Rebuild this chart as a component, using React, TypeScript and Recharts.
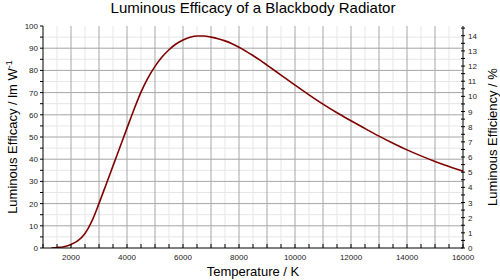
import React from 'react';
import { LineChart, Line, XAxis, YAxis, CartesianGrid } from 'recharts';

const temperatures = [1300, 1500, 1750, 2000, 2250, 2500, 2750, 3000, 3250, 3500, 3750, 4000, 4250, 4500, 4750, 5000, 5250, 5500, 5750, 6000, 6250, 6500, 6750, 7000, 7250, 7500, 7750, 8000, 8250, 8500, 8750, 9000, 9500, 10000, 10500, 11000, 11500, 12000, 12500, 13000, 13500, 14000, 14500, 15000, 15500, 16000];
const efficacy = [0.0, 0.2, 0.6, 1.6, 3.3, 6.5, 12.2, 20.1, 28.5, 37.0, 45.5, 54.0, 62.4, 70.2, 76.6, 81.8, 86.0, 89.3, 91.9, 93.7, 94.9, 95.5, 95.5, 95.0, 94.3, 93.3, 92.0, 90.4, 88.6, 86.7, 84.6, 82.4, 77.9, 73.4, 69.0, 64.8, 60.9, 57.3, 53.8, 50.4, 47.2, 44.2, 41.5, 39.0, 36.7, 34.6];

const xTicks = [1000, 1500, 2000, 2500, 3000, 3500, 4000, 4500, 5000, 5500, 6000, 6500, 7000, 7500, 8000, 8500, 9000, 9500, 10000, 10500, 11000, 11500, 12000, 12500, 13000, 13500, 14000, 14500, 15000, 15500, 16000];
const xMajorGrid = [2000, 3000, 4000, 5000, 6000, 7000, 8000, 9000, 10000, 11000, 12000, 13000, 14000, 15000];
const xMinorGrid = [1500, 2500, 3500, 4500, 5500, 6500, 7500, 8500, 9500, 10500, 11500, 12500, 13500, 14500, 15500];
const yTicks = [0, 5, 10, 15, 20, 25, 30, 35, 40, 45, 50, 55, 60, 65, 70, 75, 80, 85, 90, 95, 100];
const yMajorGrid = [10, 20, 30, 40, 50, 60, 70, 80, 90];
const yMinorGrid = [5, 15, 25, 35, 45, 55, 65, 75, 85, 95];
const rightTicks = [0, 0.5, 1, 1.5, 2, 2.5, 3, 3.5, 4, 4.5, 5, 5.5, 6, 6.5, 7, 7.5, 8, 8.5, 9, 9.5, 10, 10.5, 11, 11.5, 12, 12.5, 13, 13.5, 14, 14.5];
const rightMax = 10000 / 683;

const data = temperatures.map((t, i) => ({ t, e: efficacy[i] }));

const FONT = '"Liberation Sans", Arial, sans-serif';
const TICK_COLOR = '#222';

const BottomTick = (props: any) => {
  const { x, y, payload } = props;
  const v = payload.value;
  return (
    <g>
      <line x1={x} x2={x} y1={y} y2={y - 4} stroke="#000" />
      {v % 2000 === 0 && (
        <text x={x} y={y + 12} textAnchor="middle" fontSize={8} fontFamily={FONT} fill={TICK_COLOR}>
          {v}
        </text>
      )}
    </g>
  );
};

const TopTick = (props: any) => {
  const { x, y } = props;
  return <line x1={x} x2={x} y1={y} y2={y + 4} stroke="#000" />;
};

const LeftTick = (props: any) => {
  const { x, y, payload } = props;
  const v = payload.value;
  return (
    <g>
      <line x1={x - 3} x2={x} y1={y} y2={y} stroke="#000" />
      {v % 10 === 0 && (
        <text x={x - 5} y={y + 3} textAnchor="end" fontSize={8} fontFamily={FONT} fill={TICK_COLOR}>
          {v}
        </text>
      )}
    </g>
  );
};

const RightTick = (props: any) => {
  const { x, y, payload } = props;
  const v = payload.value;
  return (
    <g>
      <line x1={x - 2} x2={x + 2} y1={y} y2={y} stroke="#000" />
      {Number.isInteger(v) && (
        <text x={x + 5} y={y + 3} textAnchor="start" fontSize={8} fontFamily={FONT} fill={TICK_COLOR}>
          {v}
        </text>
      )}
    </g>
  );
};

const LeftLabel = (props: any) => {
  const vb = props.viewBox || { x: 0, y: 26, width: 43, height: 222 };
  const cx = 17;
  const cy = vb.y + vb.height / 2;
  return (
    <text
      x={cx}
      y={cy}
      transform={`rotate(-90 ${cx} ${cy})`}
      textAnchor="middle"
      fontSize={13}
      fontFamily={FONT}
      fill="#000"
    >
      Luminous Efficacy / lm W<tspan dy={-5} fontSize={9}>-1</tspan>
    </text>
  );
};

const RightLabel = (props: any) => {
  const vb = props.viewBox || { x: 463, y: 26, width: 37, height: 222 };
  const cx = 497;
  const cy = vb.y + vb.height / 2;
  return (
    <text
      x={cx}
      y={cy}
      transform={`rotate(-90 ${cx} ${cy})`}
      textAnchor="middle"
      fontSize={13}
      fontFamily={FONT}
      fill="#000"
    >
      Luminous Efficiency / %
    </text>
  );
};

const BottomLabel = (props: any) => {
  const vb = props.viewBox || { x: 43, y: 248, width: 420, height: 20 };
  const cx = vb.x + vb.width / 2;
  return (
    <text x={cx} y={276} textAnchor="middle" fontSize={13} fontFamily={FONT} fill="#000">
      Temperature / K
    </text>
  );
};

export default function App() {
  return (
    <div style={{ position: 'absolute', left: 0, top: 0, width: 500, height: 280, background: '#fff' }}>
      <div
        style={{
          position: 'absolute',
          left: 0,
          top: 0,
          width: 506,
          textAlign: 'center',
          fontFamily: FONT,
          fontSize: 15,
          lineHeight: '16px',
          color: '#000',
        }}
      >
        Luminous Efficacy of a Blackbody Radiator
      </div>
      <LineChart width={500} height={280} data={data} margin={{ top: 26, right: 0, bottom: 12, left: 0 }}>
        <CartesianGrid verticalValues={xMinorGrid} horizontalValues={yMinorGrid} stroke="#e6e6e6" />
        <CartesianGrid verticalValues={xMajorGrid} horizontalValues={yMajorGrid} stroke="#a6a6a6" />
        <XAxis
          dataKey="t"
          type="number"
          domain={[1000, 16000]}
          ticks={xTicks}
          interval={0}
          tickSize={0}
          tickMargin={0}
          tickLine={false}
          tick={<BottomTick />}
          height={20}
          axisLine={{ stroke: '#000' }}
          allowDataOverflow
          label={<BottomLabel />}
        />
        <XAxis
          xAxisId="top"
          orientation="top"
          dataKey="t"
          type="number"
          domain={[1000, 16000]}
          ticks={xTicks}
          interval={0}
          tickSize={0}
          tickMargin={0}
          tickLine={false}
          tick={<TopTick />}
          height={0}
          axisLine={{ stroke: '#000' }}
          allowDataOverflow
        />
        <YAxis
          type="number"
          domain={[0, 100]}
          ticks={yTicks}
          interval={0}
          tickSize={0}
          tickMargin={0}
          tickLine={false}
          tick={<LeftTick />}
          width={43}
          axisLine={{ stroke: '#000' }}
          allowDataOverflow
          label={<LeftLabel />}
        />
        <YAxis
          yAxisId="right"
          orientation="right"
          type="number"
          domain={[0, rightMax]}
          ticks={rightTicks}
          interval={0}
          tickSize={0}
          tickMargin={0}
          tickLine={false}
          tick={<RightTick />}
          width={37}
          axisLine={{ stroke: '#000' }}
          allowDataOverflow
          label={<RightLabel />}
        />
        <Line
          dataKey="e"
          type="monotone"
          stroke="#800000"
          strokeWidth={1.6}
          dot={false}
          isAnimationActive={false}
        />
      </LineChart>
    </div>
  );
}
